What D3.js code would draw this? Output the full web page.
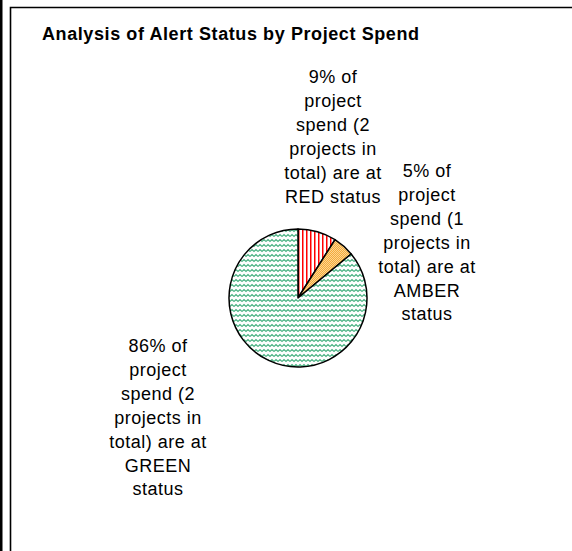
<!DOCTYPE html>
<html>
<head>
<meta charset="utf-8">
<script src="https://cdn.jsdelivr.net/npm/d3@7"></script>
<style>
  body { margin: 0; background: #fff; }
  text { font-family: "Liberation Sans", Arial, sans-serif; fill: #000; }
</style>
</head>
<body>
<div id="chart"></div>
<script>
// data
const statuses = ['RED', 'AMBER', 'GREEN'];
const spendPct = [9, 5, 86];
const projectCounts = [2, 1, 2];
const titleText = 'Analysis of Alert Status by Project Spend';

// label anchors (layout only): centre x, first baseline
const labelPos = [[333, 83], [427, 177], [158, 352]];

const W = 572, H = 551;
const cx = 298, cy = 298, r = 69;

const svg = d3.select('#chart').append('svg')
  .attr('width', W)
  .attr('height', H);

// fill patterns (excel style)
const defs = svg.append('defs');

const pRed = defs.append('pattern').attr('id', 'pat-red')
  .attr('patternUnits', 'userSpaceOnUse').attr('width', 4).attr('height', 4);
pRed.append('rect').attr('width', 4).attr('height', 4).attr('fill', '#fff');
pRed.append('rect').attr('x', 0).attr('width', 1.5).attr('height', 4).attr('fill', '#ff0000');

const pAmb = defs.append('pattern').attr('id', 'pat-amber')
  .attr('patternUnits', 'userSpaceOnUse').attr('width', 2).attr('height', 2);
pAmb.append('rect').attr('width', 2).attr('height', 2).attr('fill', '#f5aa3c');
pAmb.append('rect').attr('width', 1).attr('height', 1).attr('fill', '#fcd692');
pAmb.append('rect').attr('x', 1).attr('y', 1).attr('width', 1).attr('height', 1).attr('fill', '#fcd692');

const pGrn = defs.append('pattern').attr('id', 'pat-green')
  .attr('patternUnits', 'userSpaceOnUse').attr('width', 8).attr('height', 5);
pGrn.append('rect').attr('width', 8).attr('height', 5).attr('fill', '#fff');
pGrn.append('path').attr('d', 'M0,3.5 L2,1.5 L4,3.5 L6,1.5 L8,3.5')
  .attr('fill', 'none').attr('stroke', '#45b07f').attr('stroke-width', 1.1);

const fills = d3.scaleOrdinal().domain(statuses)
  .range(['url(#pat-red)', 'url(#pat-amber)', 'url(#pat-green)']);

// frame
svg.append('rect').attr('x', 0).attr('y', 0).attr('width', 2.5).attr('height', H).attr('fill', '#000');
svg.append('path')
  .attr('d', `M10.5,${H + 5} L10.5,7.5 L${W + 5},7.5`)
  .attr('fill', 'none').attr('stroke', '#000').attr('stroke-width', 1.6);

// title
svg.append('text')
  .attr('x', 42).attr('y', 40)
  .attr('font-size', 18).attr('font-weight', 'bold')
  .attr('textLength', 377).attr('lengthAdjust', 'spacing')
  .text(titleText);

// pie
const rows = statuses.map((s, i) => ({ status: s, pct: spendPct[i], n: projectCounts[i] }));
const pie = d3.pie().sort(null).value(d => d.pct);
const arc = d3.arc().innerRadius(0).outerRadius(r);

const g = svg.append('g').attr('transform', `translate(${cx},${cy})`);
g.selectAll('path.slice')
  .data(pie(rows))
  .join('path')
  .attr('class', 'slice')
  .attr('d', arc)
  .attr('fill', d => fills(d.data.status))
  .attr('stroke', '#000')
  .attr('stroke-width', 1.5)
  .attr('stroke-linejoin', 'round');

// labels, wrapped like the original
function wrapLines(str, maxW, size) {
  const probe = svg.append('text').attr('font-size', size)
    .attr('letter-spacing', 0.5).attr('visibility', 'hidden');
  const words = str.split(' ');
  const lines = [];
  let cur = '';
  words.forEach(w => {
    const test = cur ? cur + ' ' + w : w;
    probe.text(test);
    if (probe.node().getComputedTextLength() > maxW && cur) {
      lines.push(cur);
      cur = w;
    } else {
      cur = test;
    }
  });
  if (cur) lines.push(cur);
  probe.remove();
  return lines;
}

rows.forEach((d, i) => {
  const str = `${d.pct}% of project spend (${d.n} projects in total) are at ${d.status} status`;
  const lines = wrapLines(str, 101, 18);
  const t = svg.append('text')
    .attr('font-size', 18)
    .attr('letter-spacing', 0.5)
    .attr('text-anchor', 'middle');
  lines.forEach((ln, k) => {
    t.append('tspan')
      .attr('x', labelPos[i][0])
      .attr('y', labelPos[i][1] + k * 23.9)
      .text(ln);
  });
});
</script>
</body>
</html>
